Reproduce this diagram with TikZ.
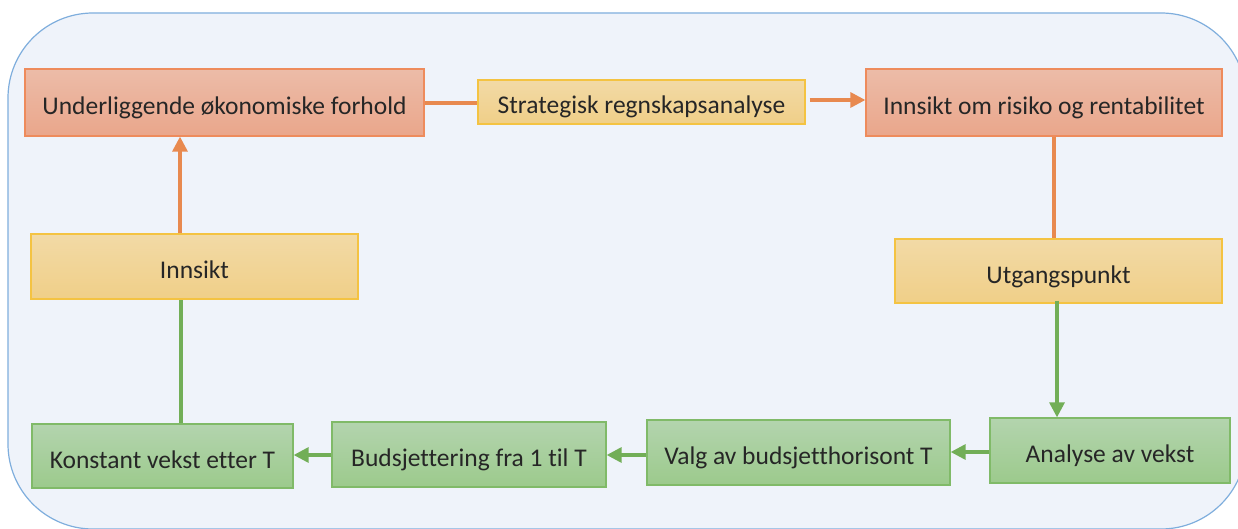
\documentclass[tikz,border=0pt]{standalone}
\usepackage{fontspec}
\setmainfont[Ligatures=NoCommon]{Carlito}
\usetikzlibrary{arrows.meta}
\definecolor{panelfill}{HTML}{EFF3FA}
\definecolor{panelline}{HTML}{7FAEDD}
\definecolor{orangeline}{HTML}{E8894F}
\definecolor{greenline}{HTML}{72AE57}
\definecolor{salmonborder}{HTML}{EE8B5C}
\definecolor{salmontop}{HTML}{ECBCA8}
\definecolor{salmonbot}{HTML}{EAA68B}
\definecolor{yellowborder}{HTML}{F4C342}
\definecolor{yellowtop}{HTML}{F2DAA6}
\definecolor{yellowbot}{HTML}{F0CF88}
\definecolor{greenborder}{HTML}{80BA68}
\definecolor{greentop}{HTML}{B3D4AE}
\definecolor{greenbot}{HTML}{9CCA8C}
\definecolor{textdark}{HTML}{262626}
\tikzset{
  box/.style={rectangle, inner sep=0pt, line width=1.3pt, text=textdark,
    font=\fontsize{25.5}{30}\selectfont, text height=28pt, text depth=4pt},
  redbox/.style={box, draw=salmonborder, top color=salmontop, bottom color=salmonbot},
  yelbox/.style={box, draw=yellowborder, top color=yellowtop, bottom color=yellowbot},
  grnbox/.style={box, draw=greenborder, top color=greentop, bottom color=greenbot},
  oline/.style={draw=orangeline, line width=3.2pt},
  gline/.style={draw=greenline, line width=3.2pt},
  tip/.style={-{Triangle[length=15pt,width=15pt]}},
}
\begin{document}
\begin{tikzpicture}[x=1pt,y=-1pt]
  \useasboundingbox (0,0) rectangle (1238,529);
  \fill[white] (0,0) rectangle (1238,529);
  \begin{scope}
    \clip (0,0) rectangle (1238,529);
    \draw[fill=panelfill, draw=panelline, line width=1.2pt, rounded corners=85pt]
      (8,13) rectangle (1246,529);
  \end{scope}

  % upper row
  \node[redbox, minimum width=399pt, minimum height=67pt] (under) at (224.5,102.5) {Underliggende økonomiske forhold};
  \node[yelbox, minimum width=327pt, minimum height=44pt] (strat) at (641.5,102) {Strategisk regnskapsanalyse};
  \node[redbox, minimum width=356pt, minimum height=67pt] (risiko) at (1044,102.5) {Innsikt om risiko og rentabilitet};

  % side boxes
  \node[yelbox, minimum width=327pt, minimum height=64pt] (utgang) at (1058.5,271) {Utgangspunkt};
  \node[yelbox, minimum width=327pt, minimum height=65pt] (innsikt) at (194.5,266.5) {Innsikt};

  % lower row
  \node[grnbox, minimum width=240pt, minimum height=65pt] (analyse) at (1110,450.5) {Analyse av vekst};
  \node[grnbox, minimum width=303pt, minimum height=65pt] (valg) at (798.5,452.5) {Valg av budsjetthorisont T};
  \node[grnbox, minimum width=274pt, minimum height=65pt] (budsj) at (469,454.5) {Budsjettering fra 1 til T};
  \node[grnbox, minimum width=261pt, minimum height=64pt] (konst) at (162.5,456) {Konstant vekst etter T};

  % orange connectors
  \draw[oline] (under.east |- 0,103) -- (strat.west |- 0,103);
  \draw[oline, tip] ([xshift=4pt]strat.east |- 0,100) -- (risiko.west |- 0,100);
  \draw[oline] (risiko.south -| 1054,0) -- (utgang.north -| 1054,0);
  \draw[oline, tip] (innsikt.north -| 180,0) -- (under.south -| 180,0);

  % green connectors
  \draw[gline, tip] ([yshift=3pt]utgang.south -| 1057,0) -- (analyse.north -| 1057,0);
  \draw[gline, tip] (analyse.west |- 0,452) -- (valg.east |- 0,452);
  \draw[gline, tip] (valg.west |- 0,455) -- (budsj.east |- 0,455);
  \draw[gline, tip] (budsj.west |- 0,455) -- (konst.east |- 0,455);
  \draw[gline] (konst.north -| 181,0) -- (innsikt.south -| 181,0);
\end{tikzpicture}
\end{document}
